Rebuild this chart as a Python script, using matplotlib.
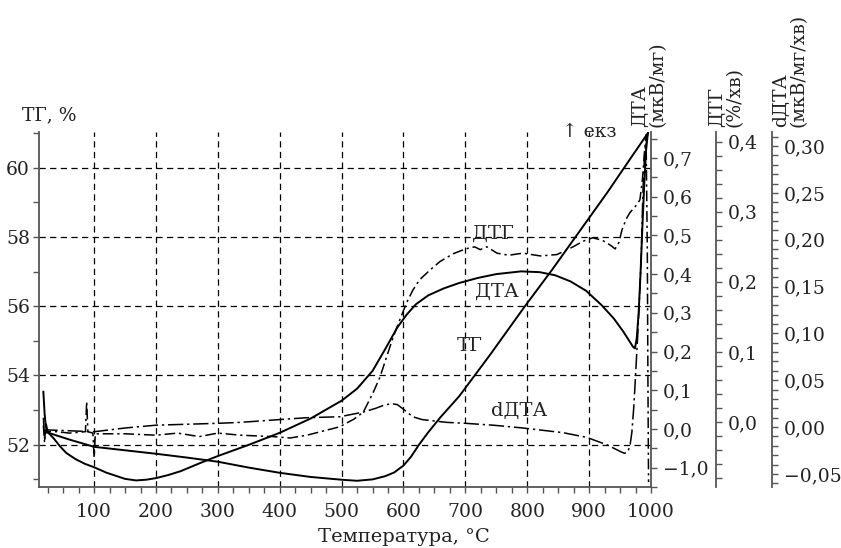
import matplotlib
matplotlib.use("Agg")
import matplotlib.pyplot as plt
from matplotlib.ticker import FixedLocator, FixedFormatter, MultipleLocator

plt.rcParams['font.family'] = ['DejaVu Serif', 'DejaVu Sans']

# ТГ curve, left axis (%)
tg_t = [20, 60, 100, 150, 200, 250, 300, 350, 400, 450, 500, 525, 550, 570,
        585, 600, 612, 625, 640, 660, 690, 740, 795, 840, 890, 930, 970, 995]
tg_v = [52.38, 52.15, 51.94, 51.84, 51.74, 51.63, 51.51, 51.34, 51.19, 51.07,
        50.99, 50.96, 51.00, 51.09, 51.20, 51.40, 51.65, 52.00, 52.36, 52.80,
        53.40, 54.60, 55.97, 57.05, 58.30, 59.30, 60.35, 61.00]

# ДТА curve (мкВ/мг)
dta_t = [18, 20, 22, 25, 35, 45, 55, 70, 85, 100, 120, 135, 150, 168, 185, 200,
         220, 240, 270, 300, 350, 400, 450, 500, 525, 550, 570, 590, 605, 620,
         640, 665, 690, 720, 750, 790, 820, 845, 870, 895, 920, 940, 955, 965,
         971, 974, 977, 980, 983, 986, 989, 992, 995]
dta_v = [0.096, 0.040, 0.005, -0.008, -0.025, -0.045, -0.062, -0.078, -0.090,
         -0.099, -0.113, -0.121, -0.129, -0.133, -0.131, -0.127, -0.119,
         -0.109, -0.089, -0.070, -0.041, -0.010, 0.027, 0.073, 0.104, 0.150,
         0.205, 0.262, 0.295, 0.322, 0.345, 0.363, 0.377, 0.390, 0.400, 0.407,
         0.405, 0.397, 0.381, 0.357, 0.320, 0.285, 0.252, 0.227, 0.212, 0.208,
         0.235, 0.300, 0.400, 0.520, 0.630, 0.720, 0.765]

# ДТГ curve (%/хв)
dtg_t = [18, 20, 22, 25, 40, 60, 86, 88, 90, 98, 100, 102, 150, 200, 235, 270,
         300, 336, 389, 417, 444, 497, 520, 535, 550, 562, 578, 585, 595, 605,
         615, 626, 643, 659, 680, 700, 715, 724, 735, 751, 770, 793, 821, 848,
         874, 890, 906, 922, 935, 942, 948, 953, 960, 966, 975, 982, 986, 989,
         992, 994, 995, 996]
dtg_v = [-0.005, -0.030, 0.000, -0.014, -0.014, -0.016, -0.014, 0.029, -0.014,
         -0.016, -0.050, -0.017, -0.017, -0.019, -0.016, -0.021, -0.016,
         -0.019, -0.021, -0.023, -0.019, -0.007, 0.004, 0.014, 0.040, 0.064,
         0.107, 0.125, 0.148, 0.170, 0.188, 0.203, 0.217, 0.229, 0.240, 0.247,
         0.250, 0.246, 0.250, 0.241, 0.238, 0.241, 0.237, 0.239, 0.250, 0.258,
         0.263, 0.259, 0.252, 0.247, 0.256, 0.274, 0.290, 0.299, 0.308, 0.317,
         0.345, 0.380, 0.410, 0.246, 0.060, -0.086]

# dДТА curve (мкВ/мг/хв)
ddta_t = [18, 20, 23, 100, 150, 200, 300, 336, 400, 444, 497, 535, 555, 567,
          580, 590, 600, 615, 630, 643, 670, 700, 745, 793, 858, 896, 929, 950,
          957, 962, 966, 969, 972, 974, 979, 984, 987, 990, 995]
ddta_v = [0.010, -0.012, -0.003, -0.005, -0.001, 0.002, 0.004, 0.005, 0.008,
          0.010, 0.011, 0.016, 0.020, 0.023, 0.025, 0.024, 0.019, 0.011, 0.008,
          0.007, 0.005, 0.004, 0.002, -0.001, -0.006, -0.011, -0.019, -0.026,
          -0.028, -0.027, -0.020, -0.006, 0.020, 0.043, 0.104, 0.178, 0.253,
          0.296, 0.314]

x_ticks = [100, 200, 300, 400, 500, 600, 700, 800, 900, 1000]
tg_ticks = [52, 54, 56, 58, 60]
dta_ticks = [-0.1, 0.0, 0.1, 0.2, 0.3, 0.4, 0.5, 0.6, 0.7]
dta_labels = ['−1,0', '0,0', '0,1', '0,2', '0,3', '0,4', '0,5', '0,6', '0,7']
dtg_ticks = [0.0, 0.1, 0.2, 0.3, 0.4]
dtg_labels = ['0,0', '0,1', '0,2', '0,3', '0,4']
ddta_ticks = [-0.05, 0.0, 0.05, 0.10, 0.15, 0.20, 0.25, 0.30]
ddta_labels = ['−0,05', '0,00', '0,05', '0,10', '0,15', '0,20', '0,25', '0,30']

txt = '#222222'
spc = '#555555'
fs = 13.5

fig = plt.figure(figsize=(8.41, 5.48), dpi=100)
ax = fig.add_axes([0.0464, 0.1113, 0.7277, 0.6478])
ax.set_xlim(11, 1000)
ax.set_ylim(50.78, 61.03)

ax2 = ax.twinx()
ax2.set_ylim(-0.150, 0.767)
ax3 = ax.twinx()
ax3.set_ylim(-0.093, 0.414)
ax3.spines['right'].set_position(('outward', 46.8))
ax4 = ax.twinx()
ax4.set_ylim(-0.064, 0.315)
ax4.spines['right'].set_position(('outward', 87.1))

for s in ['top', 'right']:
    ax.spines[s].set_visible(False)
for a in [ax2, ax3, ax4]:
    for s in ['top', 'left', 'bottom']:
        a.spines[s].set_visible(False)
for a in [ax, ax2, ax3, ax4]:
    for s in a.spines.values():
        s.set_color(spc)
        s.set_linewidth(1.3)
    a.tick_params(which='both', direction='out', length=4.5, width=1,
                  color=spc, labelsize=fs, labelcolor=txt)

ax.xaxis.set_major_locator(FixedLocator(x_ticks))
ax.xaxis.set_minor_locator(MultipleLocator(25))
ax.yaxis.set_major_locator(FixedLocator(tg_ticks))
ax.yaxis.set_minor_locator(MultipleLocator(1))
ax.tick_params(axis='x', pad=7)
ax.tick_params(axis='y', pad=2)

ax2.yaxis.set_major_locator(FixedLocator(dta_ticks))
ax2.yaxis.set_major_formatter(FixedFormatter(dta_labels))
ax2.yaxis.set_minor_locator(MultipleLocator(0.05))
ax3.yaxis.set_major_locator(FixedLocator(dtg_ticks))
ax3.yaxis.set_major_formatter(FixedFormatter(dtg_labels))
ax3.yaxis.set_minor_locator(MultipleLocator(0.02))
ax4.yaxis.set_major_locator(FixedLocator(ddta_ticks))
ax4.yaxis.set_major_formatter(FixedFormatter(ddta_labels))
ax4.yaxis.set_minor_locator(MultipleLocator(0.01))
for a in [ax2, ax3, ax4]:
    a.tick_params(axis='y', pad=4)

# dashed grid (no line at 1000, the spine is there)
for xv in x_ticks[:-1]:
    ax.axvline(xv, color='k', lw=0.9, ls=(0, (5, 3.5)), zorder=0)
for yv in tg_ticks:
    ax.axhline(yv, color='k', lw=0.9, ls=(0, (5, 3.5)), zorder=0)

ax.plot(tg_t, tg_v, color='k', lw=1.4)
ax2.plot(dta_t, dta_v, color='k', lw=1.4)
ax3.plot(dtg_t, dtg_v, color='k', lw=1.1, ls=(0, (7, 2.5, 1.5, 2.5)))
ax4.plot(ddta_t, ddta_v, color='k', lw=1.1, ls=(0, (10, 2.5, 1.5, 2.5)))

# curve names
ax.text(745, 58.09, 'ДТГ', fontsize=14, color=txt, ha='center', va='center')
ax.text(751, 56.42, 'ДТА', fontsize=14, color=txt, ha='center', va='center')
ax.text(707, 54.86, 'ТГ', fontsize=14, color=txt, ha='center', va='center')
ax.text(787, 52.98, 'dДТА', fontsize=14, color=txt, ha='center', va='center')

ax.set_xlabel('Температура, °С', fontsize=14, color=txt)
ax.xaxis.set_label_coords(0.596, -0.115)

fig.text(22 / 841, 1 - 115 / 548, 'ТГ, %', fontsize=fs, color=txt,
         ha='left', va='center')
fig.text(562 / 841, 1 - 132 / 548, '↑ екз', fontsize=fs, color=txt,
         ha='left', va='center')
fig.text(649 / 841, 1 - 127 / 548, 'ДТА\n(мкВ/мг)', fontsize=fs, color=txt,
         rotation=90, ha='center', va='bottom', multialignment='left',
         linespacing=1.0)
fig.text(726 / 841, 1 - 127 / 548, 'ДТГ\n(%/хв)', fontsize=fs, color=txt,
         rotation=90, ha='center', va='bottom', multialignment='left',
         linespacing=1.0)
fig.text(790 / 841, 1 - 127 / 548, 'dДТА\n(мкВ/мг/хв)', fontsize=fs,
         color=txt, rotation=90, ha='center', va='bottom',
         multialignment='left', linespacing=1.0)

fig.savefig('out.png', dpi=100)
